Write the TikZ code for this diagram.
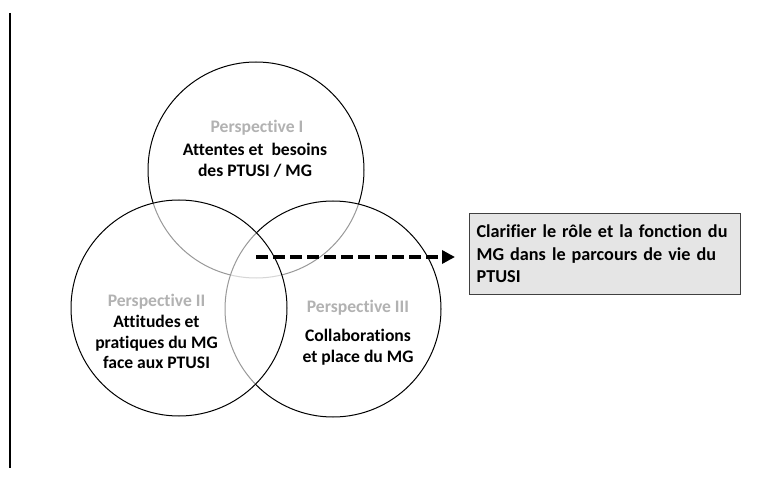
\documentclass[tikz,border=0pt]{standalone}
\usepackage{fontspec}
\setmainfont{Carlito}[Ligatures=NoCommon]
\usetikzlibrary{arrows.meta}
\definecolor{persp}{gray}{0.70}
\definecolor{boxfill}{gray}{0.90}
\definecolor{boxline}{gray}{0.25}
\tikzset{
  venn/.style={circle, draw=black, line width=1pt, fill=white, fill opacity=0.6,
    minimum size=216pt, inner sep=0pt},
  label/.style={align=center, font=\fontsize{17.6}{20.5}\selectfont\bfseries, inner sep=0pt},
  ptitle/.style={text=persp},
  goal/.style={draw=boxline, line width=1.2pt, fill=boxfill, align=left,
    font=\fontsize{18.2}{22.5}\selectfont\bfseries, inner sep=0pt,
    minimum width=271pt, minimum height=81pt, text width=257pt},
  flow/.style={line width=3.5pt, dash pattern=on 12pt off 5pt,
    -{Triangle[length=13pt,width=13pt]}, shorten >=14pt}
}
\begin{document}
\begin{tikzpicture}[x=1pt,y=-1pt]
  \fill[white] (0,0) rectangle (776,478);
  \useasboundingbox (0,0) rectangle (776,478);
  % margin rule
  \draw[line width=2pt] (10,13) -- (10,468);
  % the three perspectives
  \node[venn] (c1) at (256,170) {};
  \node[venn] (c3) at (333,309) {};
  \node[venn] (c2) at (179,308) {};
  % perspective I
  \node[label, ptitle] (t1) at (257,128) {Perspective I};
  \node[label] (b1) at (255,160) {Attentes et \ besoins\\des PTUSI / MG};
  % perspective II
  \node[label, ptitle] (t2) at (156.5,302) {Perspective II};
  \node[label] (b2) at (156.5,342) {Attitudes et\\pratiques du MG\\face aux PTUSI};
  % perspective III
  \node[label, ptitle] (t3) at (358,308) {Perspective III};
  \node[label] (b3) at (358,347) {Collaborations\\et place du MG};
  % goal
  \node[goal, anchor=north west] (goal) at (469,213)
    {Clarifier le rôle et la fonction du\\MG dans le parcours de vie du\\PTUSI};
  \coordinate (start) at (256,257);
  \draw[flow] (start) -- (start -| goal.west);
\end{tikzpicture}
\end{document}
